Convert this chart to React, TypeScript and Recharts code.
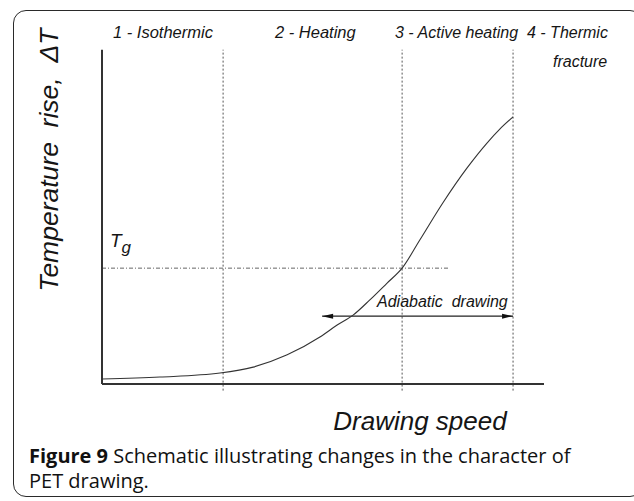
import { ComposedChart, Line, XAxis, YAxis, ReferenceLine } from "recharts";

// schematic curve: drawing speed (x) vs temperature rise (y), arbitrary units 0..100
const speed = [0, 13.1, 26.7, 34.2, 41.9, 49.3, 53.2, 56.8, 60.6, 64.5, 67.9, 71.9, 77.1, 82.6, 87.1, 90.0, 93.0];
const tempRise = [1.5, 2.1, 3.3, 5.1, 8.8, 14.2, 17.8, 20.8, 25.4, 30.5, 35.0, 43.5, 54.7, 65.3, 72.8, 77.0, 80.7];

// regime boundaries (dotted verticals)
const regimeBounds = [27.4, 67.9, 93.0];
const regimeLabels = ["1 - Isothermic", "2 - Heating", "3 - Active heating", "4 - Thermic", "fracture"];

// glass transition level
const tgLevel = 35;
const tgLineEnd = 78.3;

// adiabatic drawing arrow
const adiabaticFrom = 49.8;
const adiabaticTo = 93.0;
const adiabaticLevel = 20.5;

const data = speed.map((s, i) => ({ speed: s, rise: tempRise[i] }));

const W = 634;
const H = 501;
const italic = {
  fontFamily: "Liberation Sans, Arial, sans-serif",
  fontStyle: "italic",
  style: { whiteSpace: "pre" } as any,
  fill: "#151515",
};

const DoubleArrow = (props: any) => {
  const { x1, y1, x2, y2 } = props;
  const h = 4;
  const l = 11;
  return (
    <g>
      <line x1={x1} y1={y1} x2={x2} y2={y2} stroke="#222" strokeWidth={1.2} />
      <polygon points={`${x1},${y1} ${x1 + l},${y1 - h / 2 - 0.5} ${x1 + l},${y1 + h / 2 + 0.5}`} fill="#111" />
      <polygon points={`${x2},${y2} ${x2 - l},${y2 - h / 2 - 0.5} ${x2 - l},${y2 + h / 2 + 0.5}`} fill="#111" />
    </g>
  );
};

export default function App() {
  return (
    <div style={{ position: "absolute", left: 0, top: 0, width: W, height: H, background: "#fff" }}>
      <div
        style={{
          position: "absolute",
          left: 13,
          top: 10,
          width: 630,
          height: 487,
          border: "1.5px solid #2a2a2a",
          borderRadius: 13,
          boxSizing: "border-box",
        }}
      />
      <ComposedChart
        width={W}
        height={H}
        data={data}
        margin={{ top: 53, right: 90, bottom: 117, left: 102 }}
        style={{ position: "absolute", left: 0, top: 0 }}
      >
        <XAxis dataKey="speed" type="number" domain={[0, 100]} hide />
        <YAxis type="number" domain={[0, 100]} hide />
        {regimeBounds.map((b) => (
          <ReferenceLine
            key={b}
            segment={[{ x: b, y: -2 }, { x: b, y: 101 }]}
            ifOverflow="visible"
            stroke="#555"
            strokeWidth={1}
            strokeDasharray="2 2"
          />
        ))}
        <ReferenceLine
          segment={[{ x: 0, y: tgLevel }, { x: tgLineEnd, y: tgLevel }]}
          ifOverflow="visible"
          stroke="#666"
          strokeWidth={1}
          strokeDasharray="4 2 1 2"
        />
        <ReferenceLine
          segment={[{ x: adiabaticFrom, y: adiabaticLevel }, { x: adiabaticTo, y: adiabaticLevel }]}
          ifOverflow="visible"
          shape={DoubleArrow}
        />
        {/* axes */}
        <ReferenceLine segment={[{ x: 0, y: 0 }, { x: 0, y: 101 }]} ifOverflow="visible" stroke="#333" strokeWidth={2} />
        <ReferenceLine segment={[{ x: 0, y: 0 }, { x: 100, y: 0 }]} ifOverflow="visible" stroke="#333" strokeWidth={2} />
        <Line
          dataKey="rise"
          type="monotone"
          stroke="#333"
          strokeWidth={1.1}
          dot={false}
          isAnimationActive={false}
        />
      </ComposedChart>
      <svg width={W} height={H} style={{ position: "absolute", left: 0, top: 0, pointerEvents: "none" }}>
        <text x={113} y={38} fontSize={16.5} {...italic}>{regimeLabels[0]}</text>
        <text x={275} y={38} fontSize={16.5} {...italic}>{regimeLabels[1]}</text>
        <text x={395} y={38} fontSize={16} {...italic}>{regimeLabels[2]}</text>
        <text x={527} y={38} fontSize={16} {...italic}>{regimeLabels[3]}</text>
        <text x={553} y={67} fontSize={16} {...italic}>{regimeLabels[4]}</text>
        <text x={110} y={247} fontSize={19} {...italic}>
          T<tspan fontSize={17} dy={6}>g</tspan>
        </text>
        <text x={377} y={307} fontSize={16} {...italic}>
          Adiabatic  drawing
        </text>
        <text transform="translate(58,160) rotate(-90)" textAnchor="middle" fontSize={26.5} {...italic}>
          Temperature  rise,  ΔT
        </text>
        <text x={420} y={430} textAnchor="middle" fontSize={26} {...italic}>
          Drawing speed
        </text>
        <text x={29} y={463} fontSize={20} fill="#111" fontFamily="Open Sans, Noto Sans, sans-serif">
          <tspan fontWeight={700}>Figure 9</tspan> Schematic illustrating changes in the character of
        </text>
        <text x={29} y={488} fontSize={20} fill="#111" fontFamily="Open Sans, Noto Sans, sans-serif">
          PET drawing.
        </text>
      </svg>
    </div>
  );
}
